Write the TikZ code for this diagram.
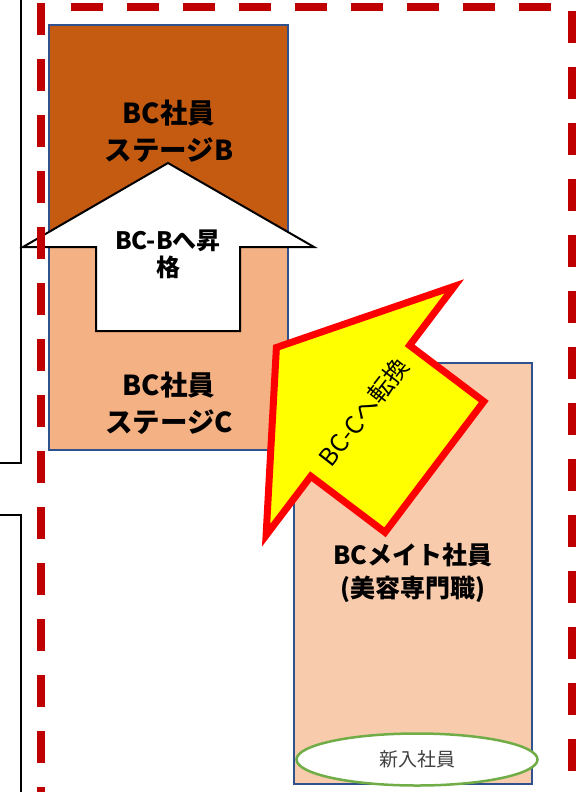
\documentclass[tikz,border=0pt]{standalone}
\usepackage{fontspec}
\usetikzlibrary{shapes.geometric}
\newfontfamily\jp{Noto Sans CJK JP}
\definecolor{stB}{HTML}{C55A11}
\definecolor{stC}{HTML}{F4B183}
\definecolor{mate}{HTML}{F8CBAD}
\definecolor{boxblue}{HTML}{2F528F}
\definecolor{egreen}{HTML}{70AD47}
\definecolor{dred}{HTML}{C00000}
\definecolor{ayellow}{HTML}{FFFF00}
\definecolor{ared}{HTML}{FF0000}
\definecolor{dgray}{HTML}{404040}
\begin{document}
\begin{tikzpicture}[x=1pt,y=-1pt,
  box/.style={draw=boxblue, line width=2pt, inner sep=0pt},
  bigtxt/.style={align=center, inner sep=0pt, text=black, font=\jp\bfseries\fontsize{27.5}{37}\selectfont},
  matetxt/.style={align=center, inner sep=0pt, text=black, font=\jp\bfseries\fontsize{25}{33}\selectfont},
  uptxt/.style={align=center, inner sep=0pt, text=black, font=\jp\bfseries\fontsize{24}{27}\selectfont},
  convtxt/.style={inner sep=0pt, text=black, font=\jp\fontsize{24.5}{27}\selectfont},
  frame/.style={draw=dred, line width=8pt, dash pattern=on 32pt off 24pt},
  outer/.style={draw=black, line width=2pt},
]
\useasboundingbox (0,0) rectangle (582,792);
\clip (0,0) rectangle (582,792);
\fill[white] (0,0) rectangle (582,792);
% neighbouring boxes, outside
\draw[outer] (21,-5) -- (21,463) -- (-5,463);
\draw[outer] (-5,515) -- (21,515) -- (21,800);
% stage boxes
\node[box, fill=stB, minimum width=239pt, minimum height=220pt] (stageB) at (168,135) {};
\node[box, fill=stC, minimum width=239pt, minimum height=205pt] (stageC) at (168,347) {};
\node[bigtxt] (tB) at (169,131) {BC社員\\ステージB};
\node[bigtxt] (tC) at (169,403) {BC社員\\ステージC};
% promotion arrow
\coordinate (wa1) at (168,163);
\coordinate (wa2) at (314,247);
\coordinate (wa3) at (240,247);
\coordinate (wa4) at (240,331);
\coordinate (wa5) at (96,331);
\coordinate (wa6) at (96,247);
\coordinate (wa7) at (23,247);
\draw[line width=2pt, fill=white, line join=miter] (wa1) -- (wa2) -- (wa3) -- (wa4) -- (wa5) -- (wa6) -- (wa7) -- cycle;
\node[uptxt] (up) at (168,254) {BC-Bへ昇\\格};
% red dashed frame
\draw[frame] (41,3) -- (41,810);
\draw[frame] (71,7) -- (560,7);
\draw[frame] (572,11) -- (572,810);
% mate box
\node[box, fill=mate, minimum width=238pt, minimum height=421pt] (mate) at (413,573.5) {};
\node[matetxt] (tM) at (413,573) {BCメイト社員\\(美容専門職)};
\node[ellipse, draw=egreen, line width=2.5pt, fill=white, minimum width=241pt, minimum height=52pt, inner sep=0pt, text=dgray, font=\jp\fontsize{19}{22}\selectfont] (new) at (417,759.5) {新入社員};
% conversion arrow
\coordinate (ya1) at (276.4,347.5);
\coordinate (ya2) at (454.3,286.3);
\coordinate (ya3) at (409.6,345.4);
\coordinate (ya4) at (483.8,401.5);
\coordinate (ya5) at (385.0,532.3);
\coordinate (ya6) at (310.8,476.2);
\coordinate (ya7) at (266.1,535.3);
\draw[draw=ared, fill=ayellow, line width=7pt, line join=miter, miter limit=10] (ya1) -- (ya2) -- (ya3) -- (ya4) -- (ya5) -- (ya6) -- (ya7) -- cycle;
\node[convtxt, rotate=52] (conv) at (364,412) {BC-Cへ転換};
\end{tikzpicture}
\end{document}
